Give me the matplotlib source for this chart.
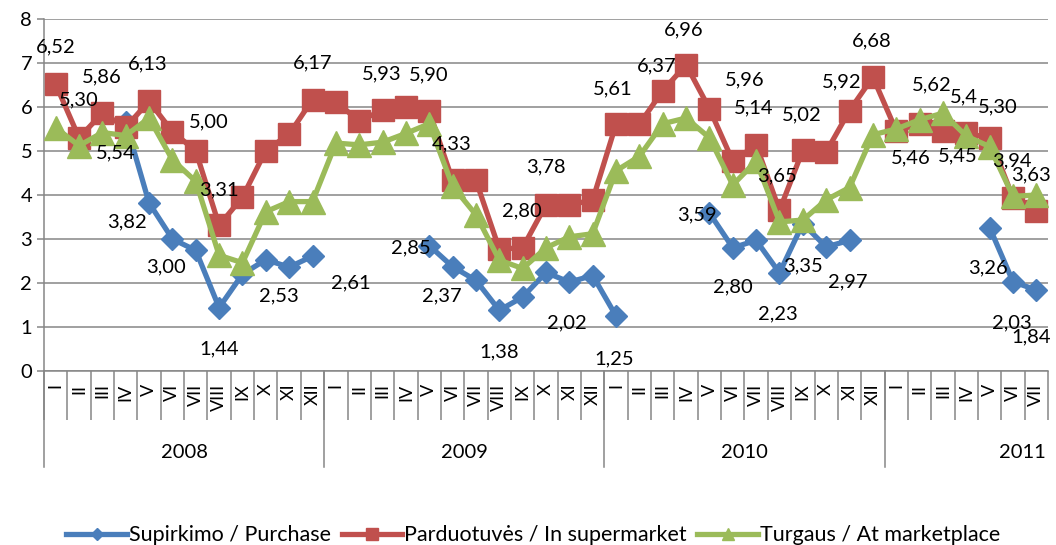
import numpy as np
import matplotlib
matplotlib.use("Agg")
import matplotlib.pyplot as plt
from matplotlib.lines import Line2D

plt.rcParams['font.family'] = ['Lato', 'DejaVu Sans']

# Months (Roman numerals) and years
months = ['I', 'II', 'III', 'IV', 'V', 'VI', 'VII', 'VIII', 'IX', 'X', 'XI', 'XII']
years = ['2008', '2009', '2010', '2011']
year_lengths = [12, 12, 12, 7]
tick_labels = months * 3 + months[:7]

nan = np.nan
# Supirkimo / Purchase
purchase = [nan, nan, nan, 5.65, 3.82, 3.00, 2.74, 1.44, 2.20, 2.53, 2.36, 2.61,
            nan, nan, nan, nan, 2.85, 2.37, 2.06, 1.38, 1.68, 2.24, 2.02, 2.17,
            1.25, nan, nan, nan, 3.59, 2.80, 2.97, 2.23, 3.35, 2.82, 2.97, nan,
            nan, nan, nan, nan, 3.26, 2.03, 1.84]
# Parduotuves / In supermarket
supermarket = [6.52, 5.30, 5.86, 5.54, 6.13, 5.44, 5.00, 3.31, 3.95, 5.01, 5.38, 6.17,
               6.12, 5.68, 5.93, 6.00, 5.90, 4.33, 4.33, 2.77, 2.80, 3.78, 3.77, 3.89,
               5.61, 5.61, 6.37, 6.96, 5.96, 4.77, 5.14, 3.65, 5.02, 4.98, 5.92, 6.68,
               5.46, 5.62, 5.45, 5.40, 5.30, 3.94, 3.63]
# Turgaus / At marketplace
marketplace = [5.53, 5.12, 5.42, 5.35, 5.75, 4.80, 4.31, 2.63, 2.46, 3.62, 3.85, 3.85,
               5.18, 5.14, 5.20, 5.40, 5.62, 4.20, 3.55, 2.52, 2.33, 2.80, 3.05, 3.12,
               4.55, 4.88, 5.62, 5.75, 5.30, 4.23, 4.77, 3.39, 3.43, 3.89, 4.17, 5.37,
               5.50, 5.71, 5.86, 5.34, 5.10, 3.97, 4.00]

# data labels: index, text
red_lbl_idx = [0, 1, 2, 3, 4, 6, 7, 11, 14, 16, 17, 20, 21, 24, 26, 27, 28, 30, 31, 32,
               34, 35, 36, 37, 38, 39, 40, 41, 42]
red_lbl_txt = ['6,52', '5,30', '5,86', '5,54', '6,13', '5,00', '3,31', '6,17', '5,93', '5,90',
               '4,33', '2,80', '3,78', '5,61', '6,37', '6,96', '5,96', '5,14', '3,65', '5,02',
               '5,92', '6,68', '5,46', '5,62', '5,45', '5,4', '5,30', '3,94', '3,63']
blue_lbl_idx = [4, 5, 7, 9, 11, 16, 17, 19, 22, 24, 28, 29, 31, 32, 34, 40, 41, 42]
blue_lbl_txt = ['3,82', '3,00', '1,44', '2,53', '2,61', '2,85', '2,37', '1,38', '2,02', '1,25',
                '3,59', '2,80', '2,23', '3,35', '2,97', '3,26', '2,03', '1,84']

# label offsets from the marker, in pixels (dx, dy up)
red_lbl_off = [(0, 37), (0, 38), (-1, 36), (-10, -26), (-1, 37), (13, 29), (0, 35), (0, 37),
               (-1, 36), (-1, 37), (-1, 37), (-1, 37), (0, 38), (-3, 35), (-6, 25), (-2, 35),
               (35, 29), (-2, 37), (-2, 35), (-1, 35), (-8, 29), (-1, 36), (15, -27), (12, 39),
               (15, -25), (-2, 37), (8, 31), (-1, 37), (-5, 36)]
blue_lbl_off = [(-22, -19), (-6, -28), (0, -41), (13, -36), (38, -27), (-18, -2), (-11, -29),
                (0, -42), (-2, -41), (-2, -43), (-13, -2), (0, -39), (-2, -41), (0, -42),
                (-2, -42), (-2, -40), (-1, -41), (-5, -47)]

c_blue = '#4A7EBB'
c_red = '#C0504D'
c_green = '#9BBB59'
grey = '#868686'
fs = 14.5

fig = plt.figure(figsize=(10.56, 5.45), dpi=100)
ax = fig.add_axes([44 / 1056, 174 / 545, 1004 / 1056, 352 / 545])

x = np.arange(len(tick_labels))
ax.plot(x, purchase, color=c_blue, lw=3.8, marker='D', ms=11, zorder=3,
        label='Supirkimo / Purchase')
ax.plot(x, supermarket, color=c_red, lw=3.8, marker='s', ms=16, zorder=4,
        label='Parduotuvės / In supermarket')
ax.plot(x, marketplace, color=c_green, lw=3.8, marker='^', ms=17, zorder=5,
        label='Turgaus / At marketplace')

for idx, txt, (dx, dy) in zip(red_lbl_idx, red_lbl_txt, red_lbl_off):
    ax.annotate(txt, (idx, supermarket[idx]), xytext=(dx * 0.72, dy * 0.72),
                textcoords='offset points', ha='center', va='center', fontsize=fs, zorder=6)
for idx, txt, (dx, dy) in zip(blue_lbl_idx, blue_lbl_txt, blue_lbl_off):
    ax.annotate(txt, (idx, purchase[idx]), xytext=(dx * 0.72, dy * 0.72),
                textcoords='offset points', ha='center', va='center', fontsize=fs, zorder=6)

ax.set_xlim(-0.5, len(x) - 0.5)
ax.set_ylim(0, 8)
ax.set_yticks(range(0, 9))
ax.yaxis.grid(True, color=grey, lw=1.1)
ax.set_axisbelow(True)
for s in ['top', 'right']:
    ax.spines[s].set_visible(False)
for s in ['left', 'bottom']:
    ax.spines[s].set_color(grey)
    ax.spines[s].set_linewidth(1.1)
ax.tick_params(axis='y', colors=grey, length=5, width=1.1, labelsize=fs, labelcolor='black')

# category boundaries as major ticks, month names as minor ticks
ax.set_xticks(np.arange(-0.5, len(x), 1.0))
ax.set_xticklabels([])
ax.set_xticks(x, minor=True)
ax.set_xticklabels(tick_labels, minor=True, rotation=90, fontsize=13)
ax.tick_params(axis='x', which='major', length=35, width=1.1, color=grey)
ax.tick_params(axis='x', which='minor', length=0, pad=9)

# year groups
trans = ax.get_xaxis_transform()
start = 0
for yr, n in zip(years, year_lengths):
    ax.add_line(Line2D([start - 0.5, start - 0.5], [0, -0.273], transform=trans,
                       color=grey, lw=1.1, clip_on=False))
    xc = start + n / 2 - 0.5 if n == 12 else start + n - 1.6
    ax.text(xc, -0.232, yr, transform=trans, ha='center', va='center', fontsize=fs)
    start += n

fig.legend(loc='center', bbox_to_anchor=(0.505, 0.018), ncol=3, frameon=False,
           fontsize=15.5, handlelength=2.8, handletextpad=0.1, columnspacing=0.5,
           markerscale=0.55)

fig.savefig('out.png', dpi=100)
